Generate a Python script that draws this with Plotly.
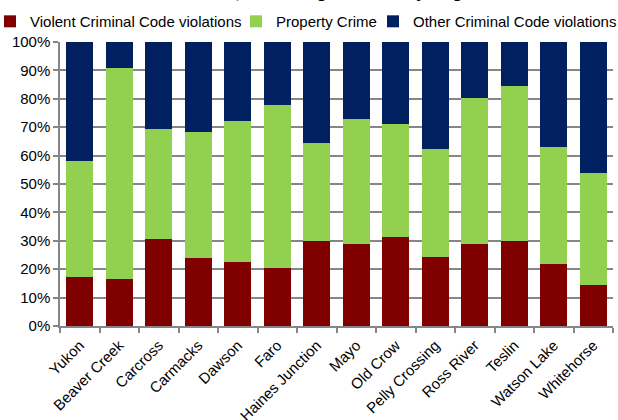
import plotly.graph_objects as go

regions = ["Yukon", "Beaver Creek", "Carcross", "Carmacks", "Dawson", "Faro",
           "Haines Junction", "Mayo", "Old Crow", "Pelly Crossing", "Ross River",
           "Teslin", "Watson Lake", "Whitehorse"]
violent = [17.1, 16.4, 30.7, 23.9, 22.7, 20.6, 29.8, 28.8, 31.2, 24.4, 28.7, 30.0, 21.8, 14.3]
property_crime = [41.0, 74.4, 38.5, 44.5, 49.4, 57.2, 34.7, 44.1, 40.1, 37.9, 51.6, 54.6, 41.1, 39.6]
other = [41.9, 9.2, 30.8, 31.6, 27.9, 22.2, 35.5, 27.1, 28.7, 37.7, 19.7, 15.4, 37.1, 46.1]
y_ticks = list(range(0, 101, 10))
y_tick_labels = [f"{v}%" for v in y_ticks]

FONT = "Liberation Sans"
L, R, T, B = 60, 5, 41.5, 93.5
W, H = 618, 420
pw = W - L - R
ph = H - T - B

def px_x(px):
    return (px - L) / pw

def px_y(py):
    return 1 + (T - py) / ph

fig = go.Figure()
series = [
    ("Violent Criminal Code violations", violent, "#800000", "legend"),
    ("Property Crime", property_crime, "#92D050", "legend2"),
    ("Other Criminal Code violations", other, "#002060", "legend3"),
]
for name, vals, color, lg in series:
    fig.add_trace(go.Bar(x=regions, y=vals, name=name, marker_color=color,
                         marker_line_width=0, legend=lg))

legend_common = dict(orientation="h", xanchor="left", yanchor="middle",
                     bgcolor="rgba(0,0,0,0)", borderwidth=0, itemwidth=30,
                     font=dict(family=FONT, size=15, color="#000000"))
text_starts = [30, 276, 413]
lg_y = px_y(21)
fig.update_layout(
    legend=dict(x=px_x(text_starts[0] - 40), y=lg_y, **legend_common),
    legend2=dict(x=px_x(text_starts[1] - 40), y=lg_y, **legend_common),
    legend3=dict(x=px_x(text_starts[2] - 40), y=lg_y, **legend_common),
)

fig.add_annotation(text="<b>Crime Rates, Percentage of Total by Region</b>",
                   xref="paper", yref="paper", x=px_x(134), y=px_y(3),
                   xanchor="left", yanchor="bottom", showarrow=False,
                   font=dict(family=FONT, size=17, color="#000000"))

fig.update_layout(
    barmode="stack",
    bargap=0.325,
    width=W, height=H,
    margin=dict(l=L, r=R, t=T, b=B, pad=0, autoexpand=False),
    paper_bgcolor="white",
    plot_bgcolor="white",
    font=dict(family=FONT, size=14, color="#000000"),
    showlegend=True,
)
fig.update_xaxes(
    showline=True, linecolor="#868686", linewidth=1.5,
    ticks="outside", tickson="boundaries", ticklen=5, tickcolor="#868686", tickwidth=1.5,
    tickangle=-45, tickfont=dict(family=FONT, size=15, color="#000000"),
    ticklabelstandoff=3,
    showgrid=False,
)
fig.update_yaxes(
    range=[0, 100], tickvals=y_ticks, ticktext=y_tick_labels,
    showline=True, linecolor="#868686", linewidth=1.5,
    ticks="outside", ticklen=5, tickcolor="#868686", tickwidth=1.5,
    showgrid=True, gridcolor="#868686", gridwidth=1.5,
    tickfont=dict(family=FONT, size=15, color="#000000"),
    zeroline=False,
)

fig.write_html("out.html", config={"displayModeBar": False},
               post_script="document.body.style.margin='0px';document.body.style.overflow='hidden';")
